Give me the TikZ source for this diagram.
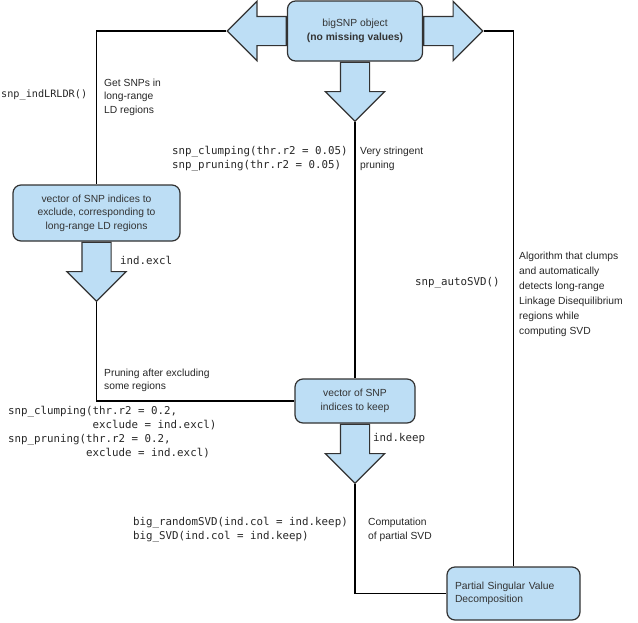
\documentclass[tikz,border=0pt]{standalone}
\usepackage{fontspec}
\setmainfont{Liberation Sans}
\setmonofont{DejaVu Sans Mono}
\usetikzlibrary{shapes.arrows,positioning}
\definecolor{snpblue}{RGB}{189,222,245}
\definecolor{edgegray}{RGB}{50,50,50}

\begin{document}
\begin{tikzpicture}[x=1pt,y=-1pt,
  box/.style={draw=edgegray,fill=snpblue,line width=1.2pt,rounded corners=8pt,
    align=center,inner sep=0pt,text=black!80,font=\fontsize{10.3}{13.6}\selectfont},
  fat/.style={single arrow,draw=edgegray,fill=snpblue,line width=1.2pt,inner sep=0pt,
    text height=28pt,single arrow head extend=15pt,single arrow tip angle=90,
    minimum height=59pt},
  link/.style={black,line width=1.1pt},
  note/.style={anchor=base west,align=left,inner sep=0pt,text=black!85,
    font=\fontsize{10.3}{13.5}\selectfont},
  code/.style={anchor=base west,align=left,inner sep=0pt,text=black!85,
    font=\ttfamily\fontsize{10.8}{14}\selectfont}
]
\useasboundingbox (0,0) rectangle (638,622);

% boxes
\node[box,minimum width=135pt,minimum height=60pt] (top) at (355,31)
  {bigSNP object\\\textbf{(no missing values)}};
\node[box,minimum width=167pt,minimum height=56pt] (excl) at (96.5,213)
  {vector of SNP indices to\\exclude, corresponding to\\long-range LD regions};
\node[box,minimum width=120pt,minimum height=44pt] (keep) at (355,401)
  {vector of SNP\\indices to keep};
\node[box,minimum width=133pt,minimum height=53pt,text width=117pt,align=left] (psvd)
  at (513.5,593.5) {Partial Singular Value\\Decomposition};

% fat arrows
\node[fat,rotate=180,anchor=tail] (wArr) at (top.west) {};
\node[fat,anchor=tail] (eArr) at (top.east) {};
\node[fat,rotate=-90,anchor=tail] (sArr) at (top.south) {};
\node[fat,rotate=-90,anchor=tail] (exclArr) at (excl.south) {};
\node[fat,rotate=-90,anchor=tail] (keepArr) at (keep.south) {};

% connectors
\draw[link] (wArr.tip) -| (excl.north);
\draw[link] (eArr.tip) -| (psvd.north);
\draw[link] (sArr.tip) -- (keep.north);
\draw[link] (exclArr.tip) |- (keep.west);
\draw[link] (keepArr.tip) |- (psvd.west);

% labels (base = last line)
\node[code,font=\ttfamily\fontsize{10.2}{14}\selectfont] (lrldrFn) at (1,97) {snp\_indLRLDR()};
\node[note] (lrldrNote) at (104,113) {Get SNPs in\\long-range\\LD regions};
\node[code] (clumpFn) at (172,168)
  {snp\_clumping(thr.r2 = 0.05)\\snp\_pruning(thr.r2 = 0.05)};
\node[note] (clumpNote) at (360,168) {Very stringent\\pruning};
\node[code] (exclLbl) at (120,264) {ind.excl};
\node[code] (autoFn) at (415,285) {snp\_autoSVD()};
\node[note,font=\fontsize{10.3}{15}\selectfont] (autoNote) at (519,334)
  {Algorithm that clumps\\and automatically\\detects long-range\\Linkage Disequilibrium\\regions while\\computing SVD};
\node[note] (pruneNote) at (104,389.5) {Pruning after excluding\\some regions};
\node[code] (pruneFn) at (8,456)
  {snp\_clumping(thr.r2 = 0.2,\\\phantom{snp\_clumping(}exclude = ind.excl)\\
   snp\_pruning(thr.r2 = 0.2,\\\phantom{snp\_pruning(}exclude = ind.excl)};
\node[code] (keepLbl) at (373,441) {ind.keep};
\node[code] (svdFn) at (133,539)
  {big\_randomSVD(ind.col = ind.keep)\\big\_SVD(ind.col = ind.keep)};
\node[note] (svdNote) at (368,539) {Computation\\of partial SVD};
\end{tikzpicture}
\end{document}
